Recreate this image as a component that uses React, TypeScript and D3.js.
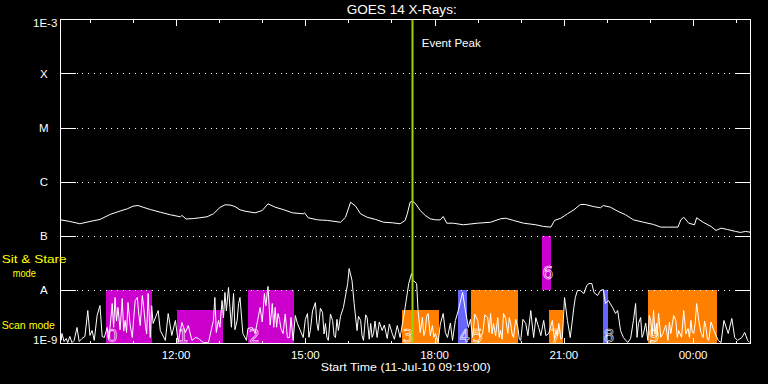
import React from 'react';
import * as d3 from 'd3';

// ---- time axis: minutes since start time 11-Jul-10 09:19:00 ----
const START = new Date(2010, 6, 11, 9, 19, 0);
const SPAN_MIN = 961;
const EVENT_PEAK_MIN = 489;

// ---- GOES 14 long channel (1-8 A), W/m^2 ----
const longTime = [0, 13, 27, 41, 55, 69, 83, 93, 101, 108, 115, 125, 139, 153, 167, 169, 175, 185, 194, 204, 213, 222, 229, 236, 243, 250, 257, 271, 281, 289, 299, 310, 323, 338, 340, 345, 358, 372, 390, 397, 404, 411, 418, 427, 439, 450, 462, 473, 480, 483, 487, 490, 494, 501, 508, 515, 522, 529, 533, 538, 547, 561, 581, 599, 613, 620, 631, 645, 662, 673, 683, 688, 697, 706, 715, 724, 731, 742, 752, 756, 766, 776, 787, 798, 812, 826, 836, 847, 860, 864, 868, 875, 883, 886, 895, 906, 913, 920, 929, 940, 947, 954, 961];
const longFlux = [1.95e-7, 1.82e-7, 1.65e-7, 1.82e-7, 1.98e-7, 2.45e-7, 2.84e-7, 3.12e-7, 3.49e-7, 3.59e-7, 3.34e-7, 3.03e-7, 2.7e-7, 2.42e-7, 2.22e-7, 2.35e-7, 2.02e-7, 2.06e-7, 2.13e-7, 2.22e-7, 2.52e-7, 3.3e-7, 3.7e-7, 3.67e-7, 3.44e-7, 2.99e-7, 2.82e-7, 2.63e-7, 2.9e-7, 3.86e-7, 3.34e-7, 3.03e-7, 2.63e-7, 2.52e-7, 2.63e-7, 2.13e-7, 1.95e-7, 1.9e-7, 1.76e-7, 2.18e-7, 4.14e-7, 3.49e-7, 2.52e-7, 2.18e-7, 1.98e-7, 1.76e-7, 1.72e-7, 1.65e-7, 1.9e-7, 2.52e-7, 4.14e-7, 4.32e-7, 3.96e-7, 2.9e-7, 2.35e-7, 2.04e-7, 1.95e-7, 1.95e-7, 2.25e-7, 1.69e-7, 1.69e-7, 1.58e-7, 1.69e-7, 1.76e-7, 2.04e-7, 2.09e-7, 1.9e-7, 1.69e-7, 1.58e-7, 1.47e-7, 1.43e-7, 1.9e-7, 2.09e-7, 2.52e-7, 2.99e-7, 3.75e-7, 3.75e-7, 3.44e-7, 3.26e-7, 3.59e-7, 3.34e-7, 2.82e-7, 2.42e-7, 1.95e-7, 1.76e-7, 1.6e-7, 1.43e-7, 1.43e-7, 1.43e-7, 1.95e-7, 2.18e-7, 1.69e-7, 1.58e-7, 2.13e-7, 1.76e-7, 1.47e-7, 1.24e-7, 1.37e-7, 1.29e-7, 1.19e-7, 1.14e-7, 1.19e-7, 1.15e-7];

// ---- GOES 14 short channel (0.5-4 A), W/m^2 ----
const shortTime = [1, 2, 5, 8, 10, 13, 16, 19, 23, 26, 30, 34, 38, 41, 44, 47, 51, 55, 58, 61, 65, 67, 69, 72, 74, 76, 78, 80, 83, 86, 88, 90, 92, 94, 97, 100, 102, 104, 107, 109, 111, 114, 116, 118, 120, 122, 125, 127, 129, 136, 139, 146, 150, 155, 160, 164, 169, 174, 178, 183, 188, 192, 199, 206, 213, 215, 217, 220, 222, 225, 227, 229, 231, 234, 236, 238, 241, 243, 246, 248, 250, 254, 259, 261, 267, 271, 278, 281, 284, 286, 289, 292, 295, 297, 299, 301, 303, 305, 307, 310, 313, 316, 319, 321, 324, 327, 330, 338, 341, 344, 346, 348, 351, 355, 357, 359, 362, 365, 367, 369, 371, 373, 376, 379, 381, 383, 385, 387, 390, 394, 400, 402, 406, 409, 413, 415, 418, 420, 422, 425, 427, 430, 432, 434, 436, 438, 441, 444, 448, 451, 455, 458, 462, 465, 469, 473, 480, 485, 489, 491, 496, 498, 501, 504, 506, 508, 510, 512, 515, 518, 520, 522, 526, 529, 533, 536, 539, 543, 546, 550, 554, 560, 564, 568, 571, 574, 577, 581, 584, 588, 591, 595, 597, 599, 601, 603, 606, 609, 611, 613, 615, 617, 620, 623, 625, 627, 629, 631, 634, 637, 639, 641, 644, 648, 651, 655, 657, 659, 662, 666, 669, 673, 676, 680, 685, 688, 690, 692, 694, 697, 699, 702, 706, 710, 715, 717, 720, 724, 729, 733, 736, 740, 743, 748, 752, 756, 759, 763, 769, 773, 776, 780, 784, 790, 794, 798, 801, 803, 805, 808, 810, 812, 815, 818, 820, 822, 824, 826, 828, 830, 831, 833, 836, 839, 843, 846, 848, 850, 854, 857, 859, 861, 865, 868, 871, 874, 876, 878, 880, 882, 884, 886, 889, 892, 895, 897, 899, 901, 903, 906, 910, 916, 920, 924, 930, 935, 939, 943, 949, 953, 957, 960];
const shortFlux = [1.14e-9, 1.53e-9, 1.09e-9, 1.24e-9, 1.04e-9, 1.35e-9, 1.04e-9, 1.14e-9, 1.98e-9, 1.09e-9, 1.24e-9, 1.35e-9, 4.08e-9, 1.41e-9, 1.74e-9, 1.14e-9, 3.3e-9, 5.05e-9, 1.35e-9, 1.29e-9, 1.98e-9, 1.2e-9, 1.98e-9, 5.5e-9, 2.0e-9, 7.11e-9, 2.6e-9, 4.64e-9, 1.8e-9, 6.81e-9, 1.7e-9, 2.67e-9, 1.6e-9, 5.74e-9, 2.2e-9, 1.29e-9, 3.0e-9, 6.26e-9, 7.11e-9, 3.5e-9, 2.15e-9, 7.74e-9, 4.5e-9, 2.35e-9, 1.5e-9, 8.43e-9, 1.29e-9, 5.0e-9, 2.35e-9, 4.08e-9, 1.74e-9, 1.14e-9, 3.59e-9, 1.41e-9, 2.67e-9, 1.04e-9, 2.45e-9, 1.6e-9, 2.15e-9, 1.14e-9, 1.29e-9, 1.24e-9, 1.04e-9, 1.04e-9, 2.67e-9, 7.11e-9, 1.6e-9, 2.67e-9, 2.0e-9, 6.26e-9, 3.0e-9, 8.8e-9, 4.0e-9, 1.09e-8, 4.64e-9, 2.0e-9, 8.43e-9, 1.8e-9, 2.67e-9, 5.5e-9, 7.11e-9, 1.53e-9, 1.14e-9, 1.9e-9, 1.98e-9, 1.53e-9, 4.64e-9, 2.5e-9, 8.43e-9, 5.0e-9, 1.14e-8, 2.2e-9, 5.5e-9, 2.0e-9, 4.64e-9, 2.0e-9, 3.59e-9, 2.8e-9, 1.9e-9, 1.53e-9, 3.5e-9, 1.29e-9, 1.3e-9, 3.03e-9, 1.14e-9, 3.3e-9, 2.35e-9, 1.29e-9, 2.8e-9, 3.59e-9, 1.3e-9, 1.74e-9, 4.0e-9, 5.74e-9, 2.4e-9, 1.74e-9, 4.5e-9, 3.75e-9, 1.5e-9, 2.35e-9, 1.3e-9, 1.14e-9, 3.5e-9, 2.67e-9, 1.4e-9, 1.29e-9, 2.8e-9, 1.74e-9, 3.2e-9, 4.64e-9, 1.29e-8, 2.45e-8, 1.47e-8, 5.5e-9, 1.74e-9, 3.2e-9, 2.67e-9, 1.4e-9, 1.14e-9, 3.4e-9, 3.03e-9, 1.2e-9, 2.35e-9, 1.3e-9, 1.53e-9, 2.6e-9, 1.29e-9, 2.5e-9, 1.74e-9, 2.2e-9, 1.24e-9, 2.3e-9, 1.53e-9, 1.2e-9, 2.15e-9, 1.29e-9, 4.64e-9, 1.29e-8, 1.98e-8, 1.47e-8, 1.29e-8, 4.08e-9, 1.6e-9, 3.03e-9, 1.4e-9, 1.74e-9, 3.2e-9, 3.59e-9, 1.4e-9, 2.15e-9, 1.3e-9, 1.53e-9, 1.04e-9, 2.3e-9, 3.59e-9, 1.6e-9, 1.29e-9, 2.4e-9, 1.14e-9, 2.67e-9, 4.08e-9, 8.8e-9, 4.08e-9, 1.98e-9, 2.8e-9, 1.29e-9, 3.5e-9, 2.67e-9, 1.3e-9, 1.53e-9, 3.4e-9, 3.03e-9, 1.6e-9, 3.59e-9, 1.5e-9, 2.35e-9, 1.4e-9, 3.03e-9, 1.3e-9, 1.74e-9, 1.2e-9, 3.59e-9, 2.9e-9, 1.53e-9, 3.0e-9, 2.35e-9, 1.5e-9, 1.29e-9, 2.8e-9, 1.98e-9, 1.2e-9, 1.14e-9, 2.8e-9, 2.35e-9, 1.4e-9, 4.08e-9, 2.2e-9, 1.29e-9, 3.0e-9, 1.98e-9, 1.4e-9, 2.67e-9, 1.4e-9, 1.53e-9, 2.67e-9, 1.2e-9, 1.74e-9, 1.4e-9, 2.35e-9, 1.2e-9, 1.29e-9, 7.11e-9, 2.67e-9, 1.29e-9, 4.64e-9, 7.11e-9, 9.58e-9, 9.58e-9, 8.43e-9, 1.19e-8, 1.29e-8, 1.29e-8, 8.8e-9, 7.74e-9, 9.58e-9, 1.0e-8, 5.5e-9, 6.26e-9, 4.64e-9, 3.59e-9, 4.08e-9, 1.74e-9, 1.29e-9, 1.04e-9, 1.24e-9, 2.67e-9, 5.5e-9, 1.3e-9, 2.35e-9, 3.03e-9, 1.3e-9, 1.53e-9, 2.4e-9, 1.14e-9, 3.3e-9, 2.67e-9, 1.4e-9, 4.08e-9, 1.5e-9, 2.35e-9, 1.4e-9, 3.59e-9, 1.3e-9, 1.53e-9, 2.2e-9, 1.14e-9, 2.5e-9, 1.53e-9, 3.3e-9, 2.67e-9, 1.3e-9, 1.74e-9, 1.3e-9, 4.08e-9, 1.5e-9, 1.9e-9, 1.3e-9, 2.67e-9, 1.6e-9, 1.53e-9, 2.4e-9, 5.5e-9, 2.67e-9, 1.6e-9, 1.29e-9, 2.6e-9, 1.98e-9, 1.2e-9, 1.14e-9, 2.5e-9, 1.74e-9, 1.14e-9, 1.04e-9, 2.67e-9, 1.53e-9, 2.9e-9, 1.29e-9, 1.14e-9, 1.29e-9, 1.6e-9, 1.14e-9, 1.04e-9];

// ---- observing blocks (minutes since start) ----
const blockStart = [63, 162, 261, 475, 554, 572, 670, 681, 755, 818];
const blockEnd = [127, 227, 325, 527, 566, 637, 683, 700, 762, 914];
const blockLow = [1e-9, 1e-9, 1e-9, 1e-9, 1e-9, 1e-9, 1e-8, 1e-9, 1e-9, 1e-9];
const blockHigh = [1e-8, 4.1e-9, 1e-8, 4.1e-9, 1e-8, 1e-8, 1e-7, 4.1e-9, 1e-8, 1e-8];
const blockKind = ['m', 'm', 'm', 'o', 'b', 'o', 'm', 'o', 'b', 'o'];
const blockLabel = ['0', '1', '2', '3', '4', '5', '6', '7', '8', '9'];

// ---- flux class levels ----
const levelFlux = [1e-8, 1e-7, 1e-6, 1e-5, 1e-4];
const levelLabel = ['A', 'B', 'C', 'M', 'X'];

const KIND_COLOR: Record<string, string> = { m: '#cc00cc', o: '#ff8000', b: '#6666ff' };
const FONT = '"Liberation Sans", Arial, sans-serif';

const t = (m: number) => new Date(START.getTime() + m * 60000);

export default function App() {
  const L = 60.5, R = 750.5, T = 19.5, B = 343.5;
  const x = d3.scaleTime().domain([t(0), t(SPAN_MIN)]).range([L, R]);
  const y = d3.scaleLog().domain([1e-9, 1e-3]).range([B, T]);

  const longLine = d3.line<number>()
    .x((_, i) => x(t(longTime[i])))
    .y((d) => y(d))(longFlux) || '';
  const shortLine = d3.line<number>()
    .x((_, i) => x(t(shortTime[i])))
    .y((d) => y(Math.max(d, 1e-9)))(shortFlux) || '';

  const hours = d3.timeHour.range(d3.timeHour.ceil(t(0)), t(SPAN_MIN));
  const fmt = d3.timeFormat('%H:%M');
  const peakX = Math.round(x(t(EVENT_PEAK_MIN))) + 0.5;

  return (
    <svg width={768} height={384} style={{ position: 'absolute', left: 0, top: 0, background: '#000' }}>
      <rect x={0} y={0} width={768} height={384} fill="#000" />
      <defs>
        <clipPath id="plot"><rect x={L} y={T} width={R - L} height={B - T} /></clipPath>
      </defs>

      {/* observing blocks */}
      <g shapeRendering="crispEdges">
        {blockStart.map((s, i) => (
          <rect key={i} x={x(t(s))} width={x(t(blockEnd[i])) - x(t(s))}
            y={y(blockHigh[i])} height={y(blockLow[i]) - y(blockHigh[i])}
            fill={KIND_COLOR[blockKind[i]]} />
        ))}
      </g>

      {/* dotted grid + long ticks */}
      <g stroke="#fff" strokeWidth={1} shapeRendering="crispEdges">
        {levelFlux.map((f, i) => {
          const yy = Math.round(y(f)) + 0.5;
          return (
            <g key={i}>
              <line x1={L} x2={L + 15} y1={yy} y2={yy} />
              <line x1={R - 15} x2={R} y1={yy} y2={yy} />
              <line x1={L + 16} x2={R - 15} y1={yy} y2={yy} strokeDasharray="1 4.83" />
            </g>
          );
        })}
      </g>

      {/* data */}
      <g clipPath="url(#plot)" fill="none" stroke="#fff" strokeWidth={1}>
        <path d={longLine} />
        <path d={shortLine} />
      </g>

      {/* block labels */}
      <g fontFamily='"DejaVu Sans", sans-serif' fontSize={17} fill="none" stroke="#fff" strokeWidth={0.6}>
        {blockStart.map((s, i) => (
          <text key={i} x={x(t(s)) + 1} y={y(blockLow[i]) - (blockLow[i] > 1e-9 ? 11 : 2)}>{blockLabel[i]}</text>
        ))}
      </g>

      {/* event peak */}
      <line x1={peakX} x2={peakX} y1={T} y2={B} stroke="#a0d000" strokeWidth={2} />
      <text x={421.7} y={47} fill="#fff" fontFamily={FONT} fontSize={11.5} textLength={59} lengthAdjust="spacingAndGlyphs">Event Peak</text>

      {/* frame + hour ticks */}
      <g stroke="#fff" strokeWidth={1} shapeRendering="crispEdges" fill="none">
        <rect x={L} y={T} width={R - L} height={B - T} />
        {hours.map((h, i) => {
          const xx = Math.round(x(h)) + 0.5;
          const len = h.getHours() % 3 === 0 ? 6 : 3;
          return (
            <g key={i}>
              <line x1={xx} x2={xx} y1={T} y2={T + len} />
              <line x1={xx} x2={xx} y1={B} y2={B - len} />
            </g>
          );
        })}
      </g>

      {/* tick labels */}
      <g fill="#fff" fontFamily={FONT} fontSize={11.5}>
        {hours.filter((h) => h.getHours() % 3 === 0).map((h, i) => (
          <text key={i} x={x(h)} y={359} textAnchor="middle">{fmt(h)}</text>
        ))}
        <text x={320.7} y={371} textLength={170} lengthAdjust="spacingAndGlyphs">Start Time (11-Jul-10 09:19:00)</text>
        <text x={57.3} y={27} textAnchor="end">1E-3</text>
        <text x={57.3} y={344} textAnchor="end">1E-9</text>
        {levelFlux.map((f, i) => (
          <text key={i} x={43.8} y={y(f) + 4.5} textAnchor="middle">{levelLabel[i]}</text>
        ))}
        <text x={346.7} y={14} fontSize={13} textLength={110} lengthAdjust="spacingAndGlyphs">GOES 14 X-Rays:</text>
      </g>

      {/* mode labels */}
      <g fill="#ffff00" fontFamily={FONT} fontSize={11}>
        <text x={1.7} y={262.5} textLength={65} lengthAdjust="spacingAndGlyphs">Sit &amp; Stare</text>
        <text x={12.7} y={276.5} textLength={23.3} lengthAdjust="spacingAndGlyphs">mode</text>
        <text x={1.7} y={328.5} textLength={53.3} lengthAdjust="spacingAndGlyphs">Scan mode</text>
      </g>
    </svg>
  );
}
